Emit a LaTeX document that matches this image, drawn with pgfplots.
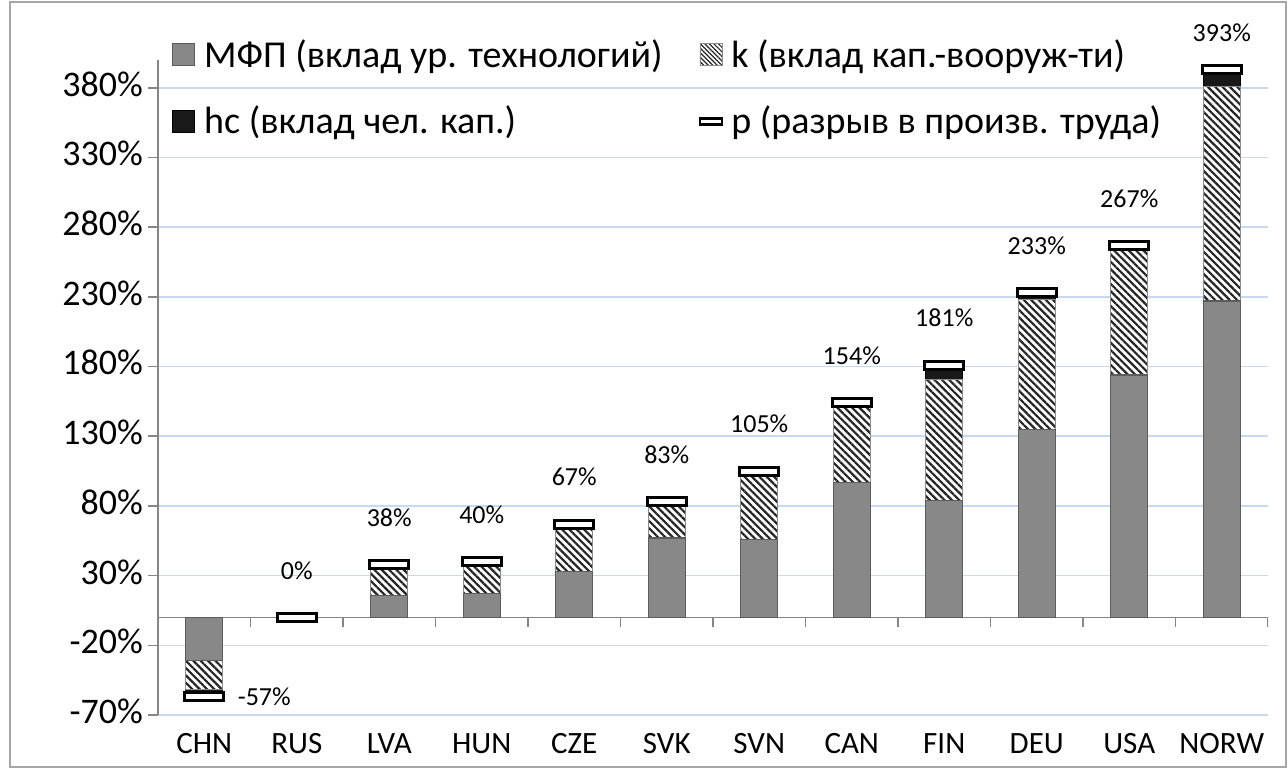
\documentclass[border=0pt]{standalone}
\usepackage{fontspec}
\setmainfont{Carlito}
\usepackage{pgfplots}
\pgfplotsset{compat=1.18}
\usepackage{pgfplotstable}
\usetikzlibrary{patterns.meta}

\definecolor{gridc}{RGB}{200,216,238}
\definecolor{axc}{RGB}{134,134,134}
\definecolor{mfpF}{RGB}{136,136,136}
\definecolor{mfpE}{RGB}{92,92,92}

\pgfplotstableread{
x mfp k hc
0 -31 -21 -5
1 0 0 0
2 16 22 0
3 17 23 0
4 33 34 0
5 57 26 0
6 56 49 0
7 97 54 3
8 84 87 10
9 135 93 5
10 174 90 3
11 227 154 12
}\comp

\pgfplotstableread{
x p
0 -57
1 0
2 38
3 40
4 67
5 83
6 105
7 154
8 181
9 233
10 267
11 393
}\ptab

\pgfdeclareplotmark{pbox}{%
  \pgfpathrectangle{\pgfqpoint{-9.75pt}{-2pt}}{\pgfqpoint{19.5pt}{4pt}}%
  \pgfusepathqfillstroke}

\begin{document}
\begin{tikzpicture}
\useasboundingbox (-79pt,-27pt) rectangle (565pt,357.5pt);
\draw[gray!70, line width=0.8pt] (-74pt,-26pt) rectangle (564pt,356.5pt);
\begin{axis}[
  scale only axis, width=555pt, height=327.5pt,
  xmin=-0.5, xmax=11.5, ymin=-70, ymax=400,
  ybar stacked, bar width=18.5pt,
  axis y line*=left, axis x line*=bottom,
  x axis line style={draw=none},
  y axis line style={axc, line width=0.8pt},
  xtick={0,...,11},
  xticklabels={CHN,RUS,LVA,HUN,CZE,SVK,SVN,CAN,FIN,DEU,USA,NORW},
  xtick style={draw=none},
  typeset ticklabels with strut,
  xticklabel style={font=\fontsize{15.5}{18}\selectfont, yshift=2pt},
  ytick={-70,-20,30,80,130,180,230,280,330,380},
  yticklabels={-70\%,-20\%,30\%,80\%,130\%,180\%,230\%,280\%,330\%,380\%},
  yticklabel style={font=\fontsize{18}{21}\selectfont, xshift=1pt},
  ytick style={axc, line width=0.8pt},
  tick align=outside, major tick length=5pt,
  ymajorgrids, major grid style={gridc, line width=0.8pt},
  extra y ticks={0}, extra y tick labels={},
  extra y tick style={grid=major, major grid style={axc, line width=0.9pt}, tick style={draw=none}},
]
\addplot[draw=mfpE, line width=0.6pt, fill=mfpF] table[x=x,y=mfp]{\comp};
\addplot[fill=white, draw=black!45, line width=0.5pt, postaction={pattern={Lines[angle=-45,distance=2.6pt,line width=1.1pt]}, pattern color=black!85}] table[x=x,y=k]{\comp};
\addplot[fill=black!90, draw=black, line width=0.5pt] table[x=x,y=hc]{\comp};
\pgfplotsinvokeforeach{0.5,1.5,2.5,3.5,4.5,5.5,6.5,7.5,8.5,9.5,10.5,11.5}{
  \draw[axc, line width=0.8pt] (axis cs:#1,0) -- ++(0pt,-5pt);
}
\end{axis}
\begin{axis}[
  scale only axis, width=555pt, height=327.5pt,
  xmin=-0.5, xmax=11.5, ymin=-70, ymax=400,
  axis lines=none, clip=false,
  legend columns=2,
  legend cell align=left,
  legend style={draw=none, fill=none, at={(0,1)}, anchor=north west, xshift=4pt, yshift=14.5pt,
    font=\fontsize{19}{22}\selectfont, row sep=14pt,
    /tikz/every even column/.append style={column sep=16pt}},
  nodes near coords={\pgfplotspointmeta\%},
  point meta=explicit symbolic,
  every node near coord/.append style={anchor=center, font=\fontsize{13}{15}\selectfont},
]
\addlegendimage{legend image code/.code={\draw[draw=mfpE, fill=mfpF] (0pt,-5.5pt) rectangle (11pt,5.5pt); \path (13.5pt,0pt);}}
\addlegendentry{МФП (вклад ур. технологий)}
\addlegendimage{legend image code/.code={\draw[draw=black!45, fill=white, postaction={pattern={Lines[angle=-45,distance=1.6pt,line width=0.6pt]}, pattern color=black!85}] (0pt,-5.5pt) rectangle (11pt,5.5pt); \path (13.5pt,0pt);}}
\addlegendentry{k (вклад кап.-вооруж-ти)}
\addlegendimage{legend image code/.code={\draw[draw=black, fill=black!90] (0pt,-5.5pt) rectangle (11pt,5.5pt); \path (13.5pt,0pt);}}
\addlegendentry{hc (вклад чел. кап.)}
\addplot[only marks, mark=pbox, mark options={fill=white, draw=black, line width=1.5pt},
  nodes near coords={},
  legend image code/.code={\draw[fill=white, draw=black, line width=1.2pt] (0pt,-1.5pt) rectangle (11pt,1.5pt); \path (13.5pt,0pt);}
] table[x=x,y=p,meta=p]{\ptab};
\addlegendentry{p (разрыв в произв. труда)}
\addplot[only marks, mark=none, forget plot, every node near coord/.append style={yshift=23.5pt}]
  coordinates {(1,0)[0] (2,38)[38] (3,40)[40] (4,67)[67] (5,83)[83] (6,105)[105] (7,154)[154] (8,181)[181] (9,233)[233] (10,267)[267]};
\addplot[only marks, mark=none, forget plot, every node near coord/.append style={xshift=30pt}]
  coordinates {(0,-57)[-57]};
\addplot[only marks, mark=none, forget plot, every node near coord/.append style={yshift=18.5pt}]
  coordinates {(11,393)[393]};
\end{axis}
\end{tikzpicture}
\end{document}
